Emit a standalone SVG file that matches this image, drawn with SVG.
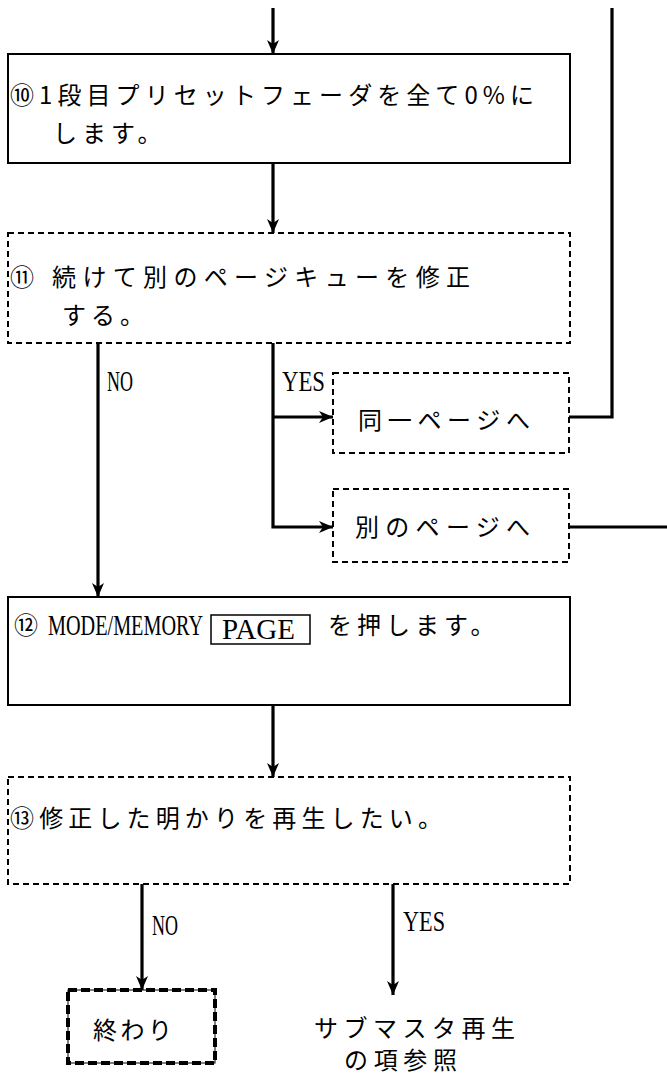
<svg xmlns="http://www.w3.org/2000/svg" width="667" height="1077" viewBox="0 0 667 1077">
<style>
.bg{fill:#fff}
.box{fill:none;stroke:#000;stroke-width:2}
.dash{fill:none;stroke:#000;stroke-width:2;stroke-dasharray:6 4}
.end{fill:none;stroke:#000;stroke-width:4;stroke-dasharray:9 4}
.endthin{fill:none;stroke:#000;stroke-width:1}
.ln{fill:none;stroke:#000;stroke-width:3.2}
.jp{font-family:"Noto Sans CJK JP","Noto Sans CJK SC",sans-serif;font-size:24px;fill:#000}
.lt{font-family:"Liberation Serif",serif;font-size:30px;fill:#000}
</style>
<defs>
<marker id="ah" viewBox="0 0 14 12" markerWidth="14" markerHeight="12" refX="14" refY="6" orient="auto" markerUnits="userSpaceOnUse">
<path d="M0,0 L14,6 L0,12 L4,6 z" fill="#000"/>
</marker>
</defs>
<rect class="bg" x="0" y="0" width="667" height="1077"/>
<g id="connectors">
<line class="ln" x1="273" y1="8" x2="273" y2="54" marker-end="url(#ah)"/>
<line class="ln" x1="273" y1="163" x2="273" y2="233" marker-end="url(#ah)"/>
<polyline class="ln" points="612,8 612,417 569,417"/>
<line class="ln" x1="569" y1="527" x2="667" y2="527"/>
<line class="ln" x1="98" y1="343" x2="98" y2="597" marker-end="url(#ah)"/>
<polyline class="ln" points="273,343 273,527 333,527" marker-end="url(#ah)"/>
<line class="ln" x1="273" y1="417" x2="333" y2="417" marker-end="url(#ah)"/>
<line class="ln" x1="273" y1="705" x2="273" y2="777" marker-end="url(#ah)"/>
<line class="ln" x1="142" y1="884" x2="142" y2="990" marker-end="url(#ah)"/>
<line class="ln" x1="393" y1="884" x2="393" y2="995" marker-end="url(#ah)"/>
<text class="lt" x="107" y="391" textLength="26" lengthAdjust="spacingAndGlyphs">NO</text>
<text class="lt" x="282" y="391" textLength="43" lengthAdjust="spacingAndGlyphs">YES</text>
<text class="lt" x="152" y="935" textLength="26" lengthAdjust="spacingAndGlyphs">NO</text>
<text class="lt" x="403" y="931" textLength="42" lengthAdjust="spacingAndGlyphs">YES</text>
</g>
<g id="n10">
<rect class="box" x="8" y="54" width="562" height="109"/>
<text class="jp" x="10" y="104" textLength="524" lengthAdjust="spacing">⑩1段目プリセットフェーダを全て0%に</text>
<text class="jp" x="53" y="142" letter-spacing="5">します。</text>
</g>
<g id="n11">
<rect class="dash" x="8" y="233" width="562" height="110"/>
<text class="jp" x="10" y="286" textLength="460" lengthAdjust="spacing">⑪ 続けて別のページキューを修正</text>
<text class="jp" x="62" y="324" letter-spacing="5">する。</text>
</g>
<g id="same">
<rect class="dash" x="333" y="373" width="236" height="80"/>
<text class="jp" x="358" y="429" textLength="172" lengthAdjust="spacing">同一ページへ</text>
</g>
<g id="other">
<rect class="dash" x="333" y="489" width="236" height="73"/>
<text class="jp" x="355" y="536" textLength="175" lengthAdjust="spacing">別のページへ</text>
</g>
<g id="n12">
<rect class="box" x="8" y="597" width="562" height="108"/>
<text class="jp" x="14" y="634">⑫</text>
<text class="lt" x="48" y="635" font-size="26" textLength="155" lengthAdjust="spacingAndGlyphs">MODE/MEMORY</text>
<rect x="211" y="615" width="99" height="29" fill="none" stroke="#000" stroke-width="1.5"/>
<text class="lt" x="222" y="639" font-size="26" textLength="73" lengthAdjust="spacingAndGlyphs">PAGE</text>
<text class="jp" x="328" y="634" letter-spacing="5">を押します。</text>
</g>
<g id="n13">
<rect class="dash" x="8" y="777" width="562" height="107"/>
<text class="jp" x="10" y="827" textLength="432" lengthAdjust="spacing">⑬修正した明かりを再生したい。</text>
</g>
<g id="end">
<rect class="endthin" x="68" y="990" width="147" height="73"/>
<rect class="end" x="68" y="990" width="147" height="73"/>
<text class="jp" x="93" y="1039" textLength="79" lengthAdjust="spacing">終わり</text>
</g>
<g id="submaster">
<text class="jp" x="314" y="1037" font-size="23" textLength="201" lengthAdjust="spacing">サブマスタ再生</text>
<text class="jp" x="344" y="1069" font-size="23" textLength="113" lengthAdjust="spacing">の項参照</text>
</g>
</svg>
